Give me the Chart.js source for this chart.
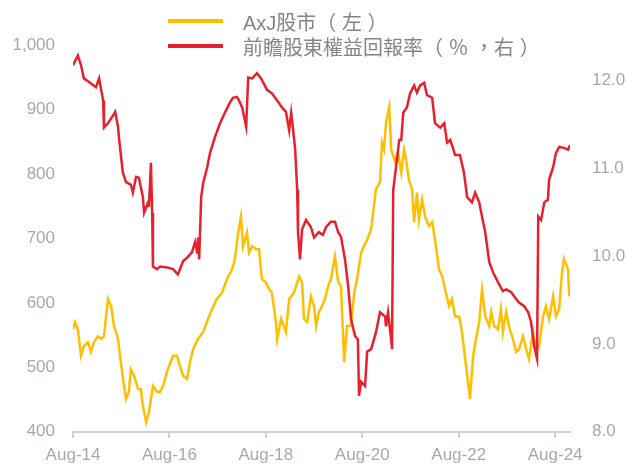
<!DOCTYPE html>
<html lang="zh-Hant">
<head>
<meta charset="utf-8">
<script src="https://cdn.jsdelivr.net/npm/chart.js@4.4.1/dist/chart.umd.min.js"></script>
<style>
  html, body { margin: 0; padding: 0; background: #ffffff; }
  #wrap { position: relative; width: 626px; height: 464px; overflow: hidden; }
  #chart { position: absolute; left: 0; top: 0; }
  .leg { position: absolute; left: 168px; height: 20px; display: flex; align-items: center;
         font-family: "Liberation Sans", "Noto Sans CJK TC", sans-serif; font-size: 20px; color: #858585; white-space: pre; }
  .leg .mk { width: 55px; height: 4px; margin-right: 20px; }
</style>
</head>
<body>
<div id="wrap">
  <canvas id="chart" width="626" height="464"></canvas>
  <div id="legend"></div>
</div>
<script>
// ---- data (months since Aug-2014) ----
const tickMonths = [0, 24, 48, 72, 96, 120];
const tickLabels = ['Aug-14', 'Aug-16', 'Aug-18', 'Aug-20', 'Aug-22', 'Aug-24'];
const leftTicks = [400, 500, 600, 700, 800, 900, 1000];
const rightTicks = [8, 9, 10, 11, 12];

const seriesNames = ['AxJ股市（ 左 ）', '前瞻股東權益回報率（ ％ ，右 ）'];

const axjMonths = [0,0.5,1.2,2.0,2.7,3.7,4.5,5.2,6.2,7.0,7.7,8.7,9.5,10.2,11.2,11.9,12.7,13.2,13.9,14.4,15.2,16.2,16.9,17.4,18.2,18.9,19.9,20.9,21.7,22.4,23.6,24.9,25.9,26.6,27.4,28.4,29.1,29.9,31.1,32.4,33.6,34.6,35.8,37.1,38.3,39.6,40.3,41.1,41.8,42.3,43.3,43.8,44.6,45.6,46.3,47.0,48.0,48.8,49.5,50.5,50.8,51.8,52.5,53.0,53.8,55.0,56.3,57.0,57.5,58.3,59.2,60.0,60.5,61.2,62.0,62.7,63.5,64.2,65.2,66.0,66.7,67.5,68.2,69.2,70.0,70.7,71.7,72.4,73.2,74.2,74.7,75.4,76.4,76.9,77.4,77.9,78.7,79.2,80.2,80.9,81.7,82.4,82.9,83.6,84.4,84.9,85.6,86.1,86.9,87.6,88.6,89.4,90.1,91.1,91.9,92.6,93.6,94.3,95.1,96.1,96.8,97.6,98.6,98.8,99.6,100.3,101.1,101.8,102.6,103.6,104.1,104.8,105.8,106.5,107.0,107.8,108.5,109.5,110.3,111.0,112.0,112.8,113.5,114.5,115.3,116.0,117.0,117.7,118.5,119.5,120.2,121.0,121.7,122.2,123.2,123.5];
const axjIndex = [559,570,559,518,533,539,524,539,548,544,548,606,595,564,544,508,471,451,462,497,487,466,466,440,415,431,471,462,462,471,497,518,518,502,487,482,508,528,544,555,575,590,606,616,637,652,668,709,734,688,709,678,688,683,683,637,632,621,616,570,544,575,564,555,606,616,641,632,575,570,610,595,564,586,595,606,626,637,672,632,626,508,564,564,616,637,678,688,698,714,740,776,787,848,838,879,904,838,818,833,802,838,822,791,776,725,771,729,760,734,719,725,698,652,641,621,595,606,579,579,555,513,462,451,518,544,570,621,579,564,586,564,559,590,555,586,564,544,524,528,548,528,513,555,524,533,579,595,575,610,579,590,647,668,652,610];

const roeMonths = [0,1.2,2.0,2.7,4.0,5.7,6.5,7.0,7.5,7.7,8.7,10.0,10.5,11.2,11.5,12.4,13.2,14.4,14.9,15.7,16.4,17.4,17.7,18.7,18.9,19.4,19.7,19.9,20.9,21.7,23.4,24.9,26.1,27.4,28.6,29.6,30.4,30.9,31.1,31.4,31.9,32.4,33.4,34.1,35.3,36.6,37.8,39.1,39.8,40.8,41.3,42.1,43.1,43.6,44.6,45.8,46.8,48.3,49.5,50.8,52.0,53.0,53.8,54.3,54.8,55.3,55.8,56.0,56.5,57.0,58.0,59.2,60.0,61.2,62.2,63.0,64.2,65.2,66.0,66.7,67.7,68.5,69.2,70.2,70.9,71.2,71.7,72.7,73.2,74.2,75.4,76.4,77.7,77.9,78.4,79.2,79.4,79.7,80.4,81.2,81.7,82.2,83.1,83.9,84.9,85.6,86.4,87.4,88.1,89.4,90.1,91.4,92.4,93.1,93.9,95.1,96.3,97.3,98.1,99.3,100.1,101.1,101.8,102.6,103.6,104.6,105.8,107.0,107.8,109.0,110.3,111.0,112.3,113.3,114.0,114.8,115.5,115.8,116.5,117.3,118.2,118.5,119.5,120.2,121.0,122.2,123.2,123.7];
const roeValues = [12.17,12.28,12.17,12.02,11.98,11.92,12.02,11.89,11.77,11.46,11.51,11.60,11.64,11.47,11.32,10.95,10.84,10.81,10.72,10.90,10.89,10.67,10.49,10.61,10.56,11.06,10.49,9.88,9.85,9.88,9.87,9.85,9.79,9.94,9.99,10.04,10.16,10.04,10.21,9.96,10.67,10.83,11.01,11.17,11.35,11.51,11.63,11.75,11.80,11.81,11.77,11.69,11.47,12.03,12.02,12.08,12.02,11.89,11.85,11.77,11.69,11.64,11.43,11.63,11.43,11.21,10.75,10.27,9.96,10.30,10.41,10.33,10.21,10.27,10.24,10.33,10.39,10.39,10.27,10.22,9.96,9.65,9.28,9.09,9.05,8.41,8.57,8.52,8.91,8.94,9.13,9.36,9.31,9.20,9.36,9.05,8.94,10.75,11.01,11.32,11.32,11.63,11.69,11.85,11.94,11.86,11.94,11.97,11.83,11.80,11.51,11.46,11.51,11.29,11.32,11.15,11.15,10.95,10.67,10.61,10.72,10.61,10.45,10.27,9.93,9.81,9.70,9.60,9.62,9.59,9.51,9.47,9.43,9.36,9.25,8.97,8.83,10.45,10.41,10.61,10.64,10.87,11.01,11.17,11.24,11.23,11.21,11.26];

const COLORS = { axj: '#FFBF00', roe: '#E8202C' };
const TICK_COLOR = '#a4a9b1';
const AXIS_COLOR = '#cdd1d6';
const FONT = '"Liberation Sans", "Noto Sans CJK TC", sans-serif';

const pts = (xs, ys) => xs.map((x, i) => ({ x: x, y: ys[i] }));

// HTML legend
const legend = document.getElementById('legend');
[[seriesNames[0], COLORS.axj, 11], [seriesNames[1], COLORS.roe, 36]].forEach(([t, c, top]) => {
  const d = document.createElement('div');
  d.className = 'leg';
  d.style.top = top + 'px';
  const mk = document.createElement('span');
  mk.className = 'mk';
  mk.style.background = c;
  const tx = document.createElement('span');
  tx.textContent = t;
  d.appendChild(mk);
  d.appendChild(tx);
  legend.appendChild(d);
});

new Chart(document.getElementById('chart'), {
  type: 'line',
  data: {
    datasets: [
      { label: seriesNames[1], data: pts(roeMonths, roeValues), yAxisID: 'yR', order: 0,
        borderColor: COLORS.roe, borderWidth: 2.5, pointRadius: 0, tension: 0, fill: false },
      { label: seriesNames[0], data: pts(axjMonths, axjIndex), yAxisID: 'yL', order: 1,
        borderColor: COLORS.axj, borderWidth: 2.5, pointRadius: 0, tension: 0, fill: false }
    ]
  },
  options: {
    responsive: false,
    animation: false,
    devicePixelRatio: 1,
    layout: { padding: { top: 45, left: 0, right: 0, bottom: 0 } },
    plugins: { legend: { display: false }, tooltip: { enabled: false } },
    scales: {
      x: {
        type: 'linear', position: 'bottom', min: 0, max: 123.7,
        afterBuildTicks: s => { s.ticks = tickMonths.map(v => ({ value: v })); },
        afterFit: s => { s.height = 31; },
        ticks: { callback: (v, i) => tickLabels[i], color: TICK_COLOR, font: { family: FONT, size: 17 },
                 padding: 7, maxRotation: 0, autoSkip: false },
        grid: { drawOnChartArea: false, drawTicks: true, tickLength: 6, color: AXIS_COLOR, lineWidth: 2 },
        border: { display: true, color: AXIS_COLOR, width: 2 }
      },
      yL: {
        type: 'linear', position: 'left', min: 400, max: 1000,
        afterBuildTicks: s => { s.ticks = leftTicks.map(v => ({ value: v })); },
        afterFit: s => { s.width = 73; },
        ticks: { callback: v => v.toLocaleString('en-US'), color: TICK_COLOR, font: { family: FONT, size: 17 }, padding: 18 },
        grid: { display: false, drawTicks: false },
        border: { display: false }
      },
      yR: {
        type: 'linear', position: 'right', min: 8, max: 12.4,
        afterBuildTicks: s => { s.ticks = rightTicks.map(v => ({ value: v })); },
        afterFit: s => { s.width = 56; },
        ticks: { callback: v => v.toFixed(1), color: TICK_COLOR, font: { family: FONT, size: 17 }, padding: 22 },
        grid: { display: false, drawTicks: false },
        border: { display: false }
      }
    }
  }
});
</script>
</body>
</html>
